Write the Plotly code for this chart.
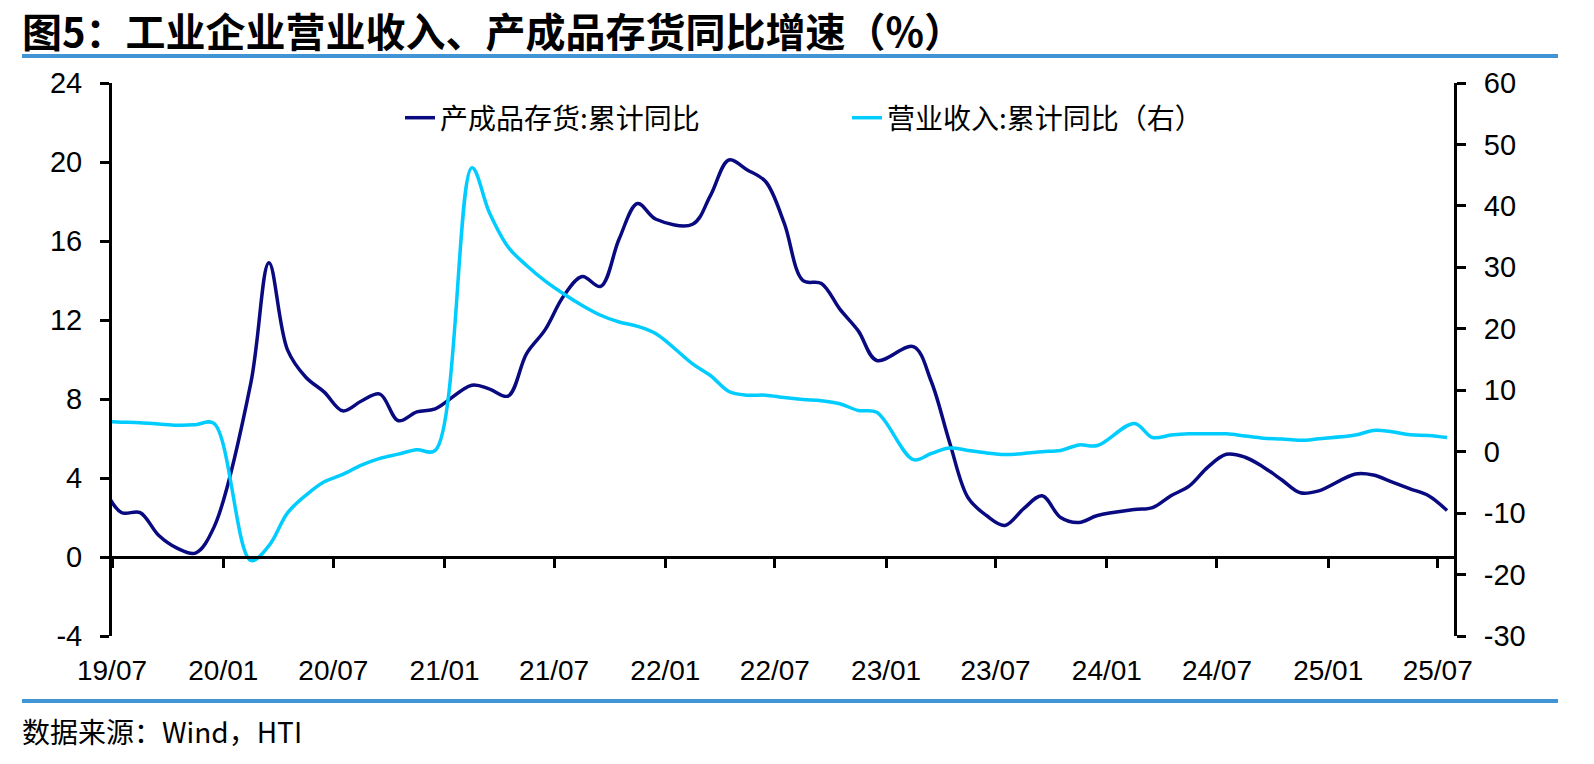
import plotly.graph_objects as go

# ---------------- data ----------------
months = (
    ["2019-06", "2019-07", "2019-08", "2019-09", "2019-10", "2019-11", "2019-12"]
    + [f"2020-{m:02d}" for m in range(2, 13)]
    + [f"2021-{m:02d}" for m in range(2, 13)]
    + [f"2022-{m:02d}" for m in range(2, 13)]
    + [f"2023-{m:02d}" for m in range(2, 13)]
    + [f"2024-{m:02d}" for m in range(2, 13)]
    + [f"2025-{m:02d}" for m in range(2, 8)]
)

inventory_yoy = [
    3.6, 2.25, 2.25, 1.1, 0.45, 0.2, 1.5,
    8.8, 14.9, 10.5, 9.1, 8.35, 7.4, 7.9, 8.25, 6.9, 7.35, 7.5,
    8.7, 8.5, 8.15, 10.3, 11.5, 13.2, 14.2, 13.7, 16.1, 17.9, 17.1,
    16.85, 18.3, 20.1, 19.6, 19.0, 16.9, 14.0, 13.85, 12.55, 11.45, 9.95,
    10.65, 8.9, 5.8, 3.0, 2.1, 1.6, 2.45, 3.1, 2.0, 1.75, 2.1,
    2.4, 2.5, 3.1, 3.6, 4.55, 5.2, 5.05, 4.55, 3.9, 3.25, 3.35,
    4.2, 4.15, 3.8, 3.45, 3.1, 2.35,
]

revenue_yoy = [
    4.9, 4.8, 4.7, 4.5, 4.3, 4.4, 4.6,
    -17.7, -15.3, -10.0, -7.1, -4.9, -3.7, -2.2, -1.1, -0.4, 0.3, 0.2,
    46.2, 38.8, 33.3, 30.3, 27.8, 25.7, 23.8, 22.2, 21.1, 20.4, 19.2,
    14.3, 12.4, 9.8, 9.2, 9.2, 8.8, 8.5, 8.3, 7.8, 6.7, 6.4,
    -1.3, -0.3, 0.6, 0.2, -0.2, -0.45, -0.3, 0.0, 0.2, 1.1, 1.0,
    4.6, 2.3, 2.7, 2.9, 2.9, 2.9, 2.55, 2.2, 2.05, 1.85, 2.1,
    2.7, 3.45, 3.25, 2.75, 2.65, 2.3,
]

tick_dates = ["2019-07-01", "2020-01-01", "2020-07-01", "2021-01-01", "2021-07-01",
              "2022-01-01", "2022-07-01", "2023-01-01", "2023-07-01", "2024-01-01",
              "2024-07-01", "2025-01-01", "2025-07-01"]
tick_labels = ["19/07", "20/01", "20/07", "21/01", "21/07", "22/01", "22/07",
               "23/01", "23/07", "24/01", "24/07", "25/01", "25/07"]

left_ticks = [-4, 0, 4, 8, 12, 16, 20, 24]
right_ticks = [-30, -20, -10, 0, 10, 20, 30, 40, 50, 60]

series_names = ["产成品存货:累计同比", "营业收入:累计同比（右）"]
title_text = "图5：工业企业营业收入、产成品存货同比增速（%）"
source_text = "数据来源：Wind，HTI"

# ---------------- layout helpers ----------------
W, H = 1594, 764
ML, MR, MT, MB = 112, 140, 83, 128
PW, PH = W - ML - MR, H - MT - MB


def xp(px):
    return (px - ML) / PW


def yp(py):
    return (H - MB - py) / PH


NARROW = "Liberation Sans Narrow, Arial Narrow, Liberation Sans, Arial, sans-serif"
CJK = "Noto Sans CJK SC, sans-serif"
DARK = "#0A0A80"
LIGHT = "#00CCFF"
RULE = "#4295D5"

fig = go.Figure()
fig.add_trace(go.Scatter(
    x=months, y=inventory_yoy, name=series_names[0], mode="lines",
    xperiod="M1", xperiodalignment="middle",
    line=dict(color=DARK, width=3.5, shape="spline", smoothing=1.0),
    yaxis="y",
))
fig.add_trace(go.Scatter(
    x=months, y=revenue_yoy, name=series_names[1], mode="lines",
    xperiod="M1", xperiodalignment="middle",
    line=dict(color=LIGHT, width=3.5, shape="spline", smoothing=1.0),
    yaxis="y2",
))

axis_common = dict(showgrid=False, zeroline=False, showline=True, linecolor="black",
                   linewidth=3, ticks="outside", ticklen=9, tickwidth=3, tickcolor="black",
                   tickfont=dict(family=NARROW, size=29, color="black"))

fig.update_layout(
    width=W, height=H,
    margin=dict(l=ML, r=MR, t=MT, b=MB, pad=0),
    paper_bgcolor="white", plot_bgcolor="white",
    showlegend=True,
    legend=dict(orientation="h", x=xp(400), y=yp(118), xanchor="left", yanchor="middle",
                entrywidth=402, entrywidthmode="pixels",
                font=dict(family=CJK, size=28, color="black"),
                bgcolor="rgba(0,0,0,0)", borderwidth=0),
    xaxis=dict(type="date", range=["2019-07-01", "2025-07-28"],
               anchor="free", position=4 / 28,
               tickmode="array", tickvals=tick_dates, ticktext=tick_labels,
               ticklabelstandoff=78,
               **{k: v for k, v in axis_common.items() if k != "tickfont"},
               tickfont=dict(family=NARROW, size=28, color="black")),
    yaxis=dict(range=[-4, 24], tickmode="array", tickvals=left_ticks,
               ticktext=[str(v) for v in left_ticks], ticklabelstandoff=12, **axis_common),
    yaxis2=dict(range=[-30, 60], tickmode="array", tickvals=right_ticks,
                ticktext=[str(v) for v in right_ticks], overlaying="y", side="right",
                anchor="x", ticklabelstandoff=12, **axis_common),
    annotations=[
        dict(text="<b>" + title_text + "</b>", xref="paper", yref="paper",
             x=xp(20), y=yp(30), xanchor="left", yanchor="middle", showarrow=False,
             font=dict(family=CJK, size=40, color="black")),
        dict(text=source_text, xref="paper", yref="paper",
             x=xp(20), y=yp(731), xanchor="left", yanchor="middle", showarrow=False,
             font=dict(family=CJK, size=28, color="black")),
    ],
    shapes=[
        dict(type="line", xref="paper", yref="paper", x0=xp(22), x1=xp(1558),
             y0=yp(56), y1=yp(56), line=dict(color=RULE, width=4)),
        dict(type="line", xref="paper", yref="paper", x0=xp(22), x1=xp(1558),
             y0=yp(701), y1=yp(701), line=dict(color=RULE, width=4)),
    ],
)

fig.write_html("out.html")
